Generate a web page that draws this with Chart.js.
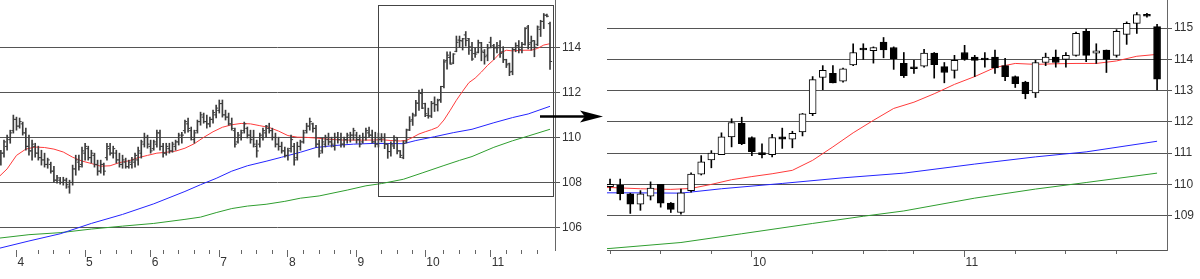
<!DOCTYPE html>
<html><head><meta charset="utf-8">
<script src="https://cdn.jsdelivr.net/npm/chart.js@4.4.1/dist/chart.umd.min.js"></script>
<style>
html,body{margin:0;padding:0;background:#fff;overflow:hidden}
#wrap{position:relative;width:1200px;height:279px;background:#fff}
.box{position:absolute;top:0;height:279px}
</style></head><body>
<div id="wrap">
<div class="box" style="left:0;width:605px"><canvas id="left"></canvas></div>
<div class="box" style="left:605px;width:595px"><canvas id="right"></canvas></div>
</div>
<script>
// ---------- data (trading-day index 0..177) ----------
const OPEN = [
109.2,109.0,109.3,109.6,109.9,110.3,110.8,110.5,110.6,110.2,
109.6,109.4,109.6,109.3,109.1,109.0,108.8,108.8,108.5,108.1,
108.1,108.0,108.1,107.8,108.0,108.6,108.9,108.8,109.3,109.5,
109.1,109.2,108.8,108.5,108.8,109.1,109.5,109.3,109.3,109.0,
108.8,108.9,108.7,108.8,108.9,109.0,109.3,109.7,110.0,109.6,
109.5,109.7,110.2,109.6,109.3,109.5,109.4,109.6,109.8,110.0,
110.3,110.6,110.3,109.9,110.3,110.7,110.9,110.7,110.6,110.8,
111.0,111.2,111.5,111.0,110.9,110.6,110.3,109.8,110.0,110.3,
110.4,110.1,110.0,109.6,109.7,110.0,110.2,110.4,110.3,110.0,
109.7,109.6,109.4,109.2,109.5,109.6,109.1,109.6,109.8,110.3,
110.5,110.6,110.4,109.7,109.4,109.7,109.9,109.8,109.6,110.0,
109.9,109.7,109.9,110.0,110.1,110.1,109.9,109.8,110.0,110.2,
110.1,109.8,109.7,
109.93,109.98,109.7,109.37,109.62,110.0,109.4,109.1,109.8,110.33,
110.78,110.95,111.52,111.95,111.5,110.97,110.95,111.52,111.45,111.68,
112.26,113.42,113.55,113.3,113.82,114.32,114.28,114.55,114.38,113.87,
113.72,113.78,114.2,113.77,113.65,114.22,114.07,114.0,114.07,113.8,
113.45,113.27,112.93,113.9,114.07,114.0,114.13,114.9,114.2,114.3,
114.13,114.8,115.15,115.42,115.05];
const HIGH = [
109.5,109.43,109.88,110.1,110.32,110.99,110.9,110.86,110.68,110.41,
110.1,109.88,109.74,109.61,109.43,109.3,109.08,108.9,108.72,108.32,
108.23,108.23,108.19,108.1,108.77,109.21,109.21,109.57,109.74,109.61,
109.43,109.3,108.99,108.99,108.86,109.74,109.74,109.61,109.43,109.3,
109.21,109.08,108.99,109.12,109.3,109.57,109.88,110.19,110.1,109.88,
109.88,110.32,110.32,109.74,109.74,109.74,109.79,109.88,110.19,110.23,
110.77,110.86,110.46,110.32,110.77,111.12,111.08,110.99,110.9,111.21,
111.43,111.66,111.66,111.21,111.08,110.86,110.41,110.23,110.32,110.68,
110.46,110.32,110.32,109.88,110.19,110.41,110.54,110.63,110.41,110.19,
110.01,109.79,109.57,109.52,110.1,109.74,109.79,109.88,110.32,110.63,
110.86,110.63,110.54,109.88,109.97,110.1,110.19,110.01,110.19,110.23,
110.19,110.01,110.19,110.23,110.41,110.23,110.1,110.19,110.41,110.46,
110.32,110.23,110.19,
110.17,110.17,109.72,109.8,110.08,110.0,109.42,109.85,110.37,110.92,
111.08,111.65,112.1,112.15,111.52,111.3,111.6,111.8,111.7,112.27,
113.45,113.8,113.8,113.72,114.5,114.5,114.4,114.7,114.4,114.22,
113.97,114.32,114.22,113.9,114.13,114.45,114.13,114.22,114.3,114.03,
113.47,113.3,113.97,114.2,114.3,114.22,114.87,114.97,114.5,114.3,
114.95,115.2,115.5,115.47,115.12];
const LOW = [
108.9,108.77,109.12,109.43,109.74,110.19,110.32,110.41,110.1,109.43,
109.21,108.99,109.12,108.99,108.77,108.68,108.63,108.41,108.01,107.97,
107.92,107.88,107.74,107.52,107.88,108.32,108.54,108.68,108.99,108.99,
108.86,108.68,108.32,108.41,108.32,108.99,109.21,109.08,108.86,108.68,
108.63,108.63,108.63,108.63,108.68,108.77,109.08,109.57,109.52,109.3,
109.43,109.57,109.43,109.12,109.21,109.3,109.34,109.43,109.66,109.74,
110.19,110.23,109.88,109.74,110.19,110.54,110.63,110.41,110.46,110.63,
110.86,111.08,110.9,110.77,110.54,110.32,109.57,109.74,109.88,110.19,
109.97,109.74,109.57,109.12,109.57,109.88,110.01,110.19,109.88,109.57,
109.43,109.3,109.12,108.99,109.34,108.77,108.99,109.43,109.74,110.19,
110.32,110.23,109.57,109.12,109.3,109.57,109.66,109.57,109.43,109.74,
109.57,109.57,109.74,109.79,109.88,109.74,109.57,109.74,109.88,110.01,
109.74,109.57,109.57,
109.8,109.5,109.07,109.17,109.5,109.27,109.1,109.05,109.75,110.3,
110.53,110.95,111.2,111.27,110.92,110.85,110.88,111.15,111.17,111.55,
112.2,113.03,113.25,113.27,113.8,114.0,113.88,114.05,113.68,113.42,
113.55,113.75,113.4,113.25,113.4,113.97,113.45,113.75,113.55,113.32,
113.1,112.74,112.78,113.8,113.75,113.75,114.1,113.93,113.87,113.58,
114.07,114.48,114.83,115.35,113.02];
const CLOSE = [
109.0,109.3,109.8,110.0,110.2,110.8,110.5,110.7,110.2,109.6,
109.4,109.7,109.3,109.1,109.0,108.8,109.0,108.5,108.1,108.2,
108.0,108.1,107.9,108.0,108.6,109.0,108.7,109.4,109.6,109.1,
109.3,108.8,108.5,108.8,108.5,109.6,109.3,109.5,109.0,108.8,
109.0,108.7,108.9,109.0,109.2,109.4,109.8,110.0,109.7,109.4,
109.8,110.2,109.6,109.3,109.6,109.4,109.7,109.8,110.1,110.1,
110.7,110.4,110.0,110.2,110.7,111.0,110.7,110.6,110.8,111.1,
111.3,111.5,111.0,110.9,110.6,110.4,109.7,110.1,110.2,110.6,
110.1,109.9,109.7,109.4,110.1,110.3,110.5,110.3,110.0,109.7,
109.6,109.4,109.2,109.4,109.9,109.0,109.6,109.8,110.2,110.5,
110.7,110.4,109.7,109.3,109.8,110.0,109.8,109.7,110.0,109.9,
109.7,109.9,110.1,110.1,110.3,109.9,109.7,110.0,110.3,110.1,
109.8,109.7,109.9,
110.0,109.7,109.37,109.7,109.88,109.4,109.2,109.73,110.33,110.72,
111.0,111.52,111.98,111.3,111.05,110.95,111.5,111.45,111.63,112.26,
113.35,113.65,113.25,113.7,114.22,114.3,114.38,114.3,114.02,113.48,
113.7,114.2,113.83,113.58,113.97,114.0,113.97,113.98,113.73,113.45,
113.22,112.9,113.9,114.07,113.9,114.13,114.83,114.13,114.27,114.0,
114.9,115.15,115.43,115.38,113.37];

// moving averages (day index -> value)
const RED_DAYS = [0,3,6,9,12,15,18,21,24,27,30,33,36,39,42,45,48,51,54,57,60,63,66,69,72,75,78,81,84,87,90,93,96,99,102,105,108,111,114,117,120,123,126,129,131,133,135,137,139,141,143,145,147,149,151,153,155,157,159,161,163,165,167,169,171,173,175,177];
const RED_VALUES = [108.2,108.6,109.2,109.48,109.57,109.55,109.48,109.35,109.12,108.95,108.84,108.72,108.74,108.88,108.96,109.1,109.2,109.3,109.34,109.39,109.52,109.72,110.0,110.25,110.45,110.56,110.62,110.6,110.52,110.44,110.28,110.08,110.01,110.0,109.97,109.93,109.9,109.88,109.88,109.88,109.88,109.9,109.86,109.84,109.87,110.0,110.15,110.25,110.34,110.45,110.77,111.2,111.65,112.05,112.43,112.63,112.9,113.2,113.45,113.74,113.87,113.84,113.86,113.87,113.87,113.95,114.1,114.16];
const BLUE_DAYS = [0,10,20,30,40,50,60,65,70,75,80,86,91,97,102,108,114,120,125,130,134,140,146,152,159,165,170,177];
const BLUE_VALUES = [105.06,105.4,105.72,106.18,106.58,107.05,107.6,107.9,108.18,108.5,108.74,108.94,109.12,109.34,109.55,109.64,109.7,109.73,109.73,109.72,109.86,110.03,110.21,110.36,110.65,110.88,111.04,111.38];
const GREEN_DAYS = [0,10,20,30,40,50,60,65,70,75,80,86,92,97,103,112,118,123,130,136,143,148,152,159,165,170,177];
const GREEN_VALUES = [105.52,105.68,105.77,105.93,106.06,106.18,106.36,106.46,106.66,106.84,106.95,107.03,107.16,107.3,107.4,107.66,107.85,107.95,108.14,108.42,108.75,108.98,109.15,109.56,109.85,110.06,110.36];

// axis ticks
const MONTH_LABELS = ['4','5','6','7','8','9','10','11'];
const MONTH_START_DAY = [6,28,49,71,93,115,137,158];
const WEEK_TICK_DAYS = [13,18,23,33,38,43,53,58,63,68,78,83,88,98,103,108,113,123,128,133,143,148,153,163,168,173];
const LEFT_PRICE_TICKS = [106,108,110,112,114];
const RIGHT_PRICE_TICKS = [109,110,111,112,113,114,115];
// visible windows
const LEFT_DAY_RANGE = [0.72, 178.6];
const LEFT_PRICE_RANGE = [105, 116.1];
const RIGHT_DAY_RANGE = [122.7, 177.98];
const RIGHT_PRICE_RANGE = [107.9, 115.9];
const ZOOM_BOX_DAYS = [121.9, 177.95];
const ZOOM_BOX_PRICES = [107.38, 115.88];
const ARROW_PRICE = 110.94;

// ---------- styling ----------
const FONT = "'Liberation Sans', Arial, sans-serif";
const TEXT = '#333';
const GRID = '#555';
const AXIS = '#666';
const RED = '#ff3b3b', BLUE = '#2424ff', GREEN = '#2f9e2f';
const BAR = '#3c3c3c';
const days = OPEN.map((_, i) => i);

function maLine(dx, vals, color) {
  return { type: 'line', data: dx.map((d, k) => ({ x: d, y: vals[k] })), borderColor: color,
    borderWidth: 1, pointRadius: 0, tension: 0, order: 9 };
}

function scales(dayRange, priceRange, priceTicks, yWidth, xBorder) {
  return {
    x: { type: 'linear', position: 'bottom', weight: 0, min: dayRange[0], max: dayRange[1], offset: false,
      afterBuildTicks: s => { s.ticks = WEEK_TICK_DAYS.concat(MONTH_START_DAY)
        .filter(v => v >= dayRange[0] && v <= dayRange[1]).sort((a,b)=>a-b).map(v => ({ value: v })); },
      ticks: { display: false },
      grid: { drawOnChartArea: false, drawTicks: true, tickLength: 4, color: AXIS, lineWidth: 1, offset: false },
      border: { display: xBorder, color: GRID, width: 1 },
      afterFit: s => { s.height = 4; s.paddingLeft = 0; s.paddingRight = 0; } },
    xm: { type: 'linear', position: 'bottom', weight: 1, min: dayRange[0], max: dayRange[1], offset: false,
      afterBuildTicks: s => { s.ticks = MONTH_START_DAY.filter(v => v >= dayRange[0] && v <= dayRange[1]).map(v => ({ value: v })); },
      ticks: { display: true, autoSkip: false, maxRotation: 0, minRotation: 0, align: 'start', padding: -2,
        color: TEXT, font: { family: FONT, size: 12 }, labelOffset: 1,
        callback: v => MONTH_LABELS[MONTH_START_DAY.indexOf(v)] },
      grid: { drawOnChartArea: false, drawTicks: true, tickLength: 3, color: AXIS, lineWidth: 1, offset: false },
      border: { display: false },
      afterFit: s => { s.height = 25; s.paddingLeft = 0; s.paddingRight = 0; } },
    y: { type: 'linear', position: 'right', min: priceRange[0], max: priceRange[1],
      afterBuildTicks: s => { s.ticks = priceTicks.map(v => ({ value: v })); },
      ticks: { color: TEXT, font: { family: FONT, size: 12 }, padding: 2, callback: v => String(v) },
      grid: { color: GRID, lineWidth: 1, tickLength: 5, drawTicks: true },
      border: { display: true, color: AXIS, width: 1 },
      afterFit: s => { s.width = yWidth; s.paddingTop = 0; s.paddingBottom = 0; } }
  };
}

const baseOpts = {
  responsive: true, maintainAspectRatio: false, animation: false,
  plugins: { legend: { display: false }, tooltip: { enabled: false } },
  events: []
};

const zoomBox = {
  id: 'zoomBox',
  afterDatasetsDraw(chart) {
    const { ctx, scales: { x, y } } = chart;
    const x0 = Math.round(x.getPixelForValue(ZOOM_BOX_DAYS[0])) + 0.5;
    const x1 = Math.round(x.getPixelForValue(ZOOM_BOX_DAYS[1])) + 0.5;
    const y0 = Math.round(y.getPixelForValue(ZOOM_BOX_PRICES[1])) + 0.5;
    const y1 = Math.round(y.getPixelForValue(ZOOM_BOX_PRICES[0])) + 0.5;
    ctx.save(); ctx.strokeStyle = '#444'; ctx.lineWidth = 1;
    ctx.strokeRect(x0, y0, x1 - x0, y1 - y0); ctx.restore();
  },
  afterDraw(chart) {
    const { ctx, chartArea, scales: { y } } = chart;
    const ya = Math.round(y.getPixelForValue(ARROW_PRICE)) + 0.5;
    const tip = chart.width - 2;
    ctx.save(); ctx.strokeStyle = '#000'; ctx.fillStyle = '#000'; ctx.lineWidth = 2.5;
    ctx.beginPath(); ctx.moveTo(chartArea.right - 15, ya); ctx.lineTo(tip - 18, ya); ctx.stroke();
    ctx.beginPath(); ctx.moveTo(tip, ya); ctx.lineTo(tip - 23, ya - 6); ctx.lineTo(tip - 18, ya);
    ctx.lineTo(tip - 23, ya + 6); ctx.closePath(); ctx.fill(); ctx.restore();
  }
};

// ---------- left: OHLC bars ----------
new Chart(document.getElementById('left'), {
  type: 'bar',
  data: { datasets: [
    maLine(RED_DAYS, RED_VALUES, RED),
    maLine(BLUE_DAYS, BLUE_VALUES, BLUE),
    maLine(GREEN_DAYS, GREEN_VALUES, GREEN),
    { type: 'bar', data: days.map(i => ({ x: i, y: [LOW[i], HIGH[i]] })), barThickness: 1,
      backgroundColor: BAR, grouped: false, order: 3 },
    { type: 'scatter', data: days.map(i => ({ x: i - 0.35, y: OPEN[i] })), pointStyle: 'line',
      pointRadius: 1, borderColor: BAR, borderWidth: 1, order: 2 },
    { type: 'scatter', data: days.map(i => ({ x: i + 0.35, y: CLOSE[i] })), pointStyle: 'line',
      pointRadius: 1, borderColor: BAR, borderWidth: 1, order: 2 }
  ] },
  options: Object.assign({}, baseOpts, {
    layout: { padding: 0, autoPadding: false },
    scales: scales(LEFT_DAY_RANGE, LEFT_PRICE_RANGE, LEFT_PRICE_TICKS, 50, false)
  }),
  plugins: [zoomBox]
});

// ---------- right: candlesticks ----------
const rDays = days.filter(i => i >= Math.ceil(RIGHT_DAY_RANGE[0]));
new Chart(document.getElementById('right'), {
  type: 'bar',
  data: { datasets: [
    maLine(RED_DAYS, RED_VALUES, RED),
    maLine(BLUE_DAYS, BLUE_VALUES, BLUE),
    maLine(GREEN_DAYS, GREEN_VALUES, GREEN),
    { type: 'bar', data: rDays.map(i => ({ x: i, y: [LOW[i], HIGH[i]] })), barThickness: 1,
      backgroundColor: '#000', grouped: false, order: 3 },
    { type: 'bar', data: rDays.map(i => ({ x: i, y: [OPEN[i], CLOSE[i]] })), barThickness: 7,
      backgroundColor: rDays.map(i => CLOSE[i] >= OPEN[i] ? '#fff' : '#000'),
      borderColor: '#000', borderWidth: 1, borderSkipped: false, minBarLength: 2, grouped: false, order: 2 }
  ] },
  options: Object.assign({}, baseOpts, {
    layout: { padding: { left: 2, right: 0, top: 0, bottom: 0 }, autoPadding: false },
    scales: scales(RIGHT_DAY_RANGE, RIGHT_PRICE_RANGE, RIGHT_PRICE_TICKS, 33, true)
  })
});
</script>
</body></html>
